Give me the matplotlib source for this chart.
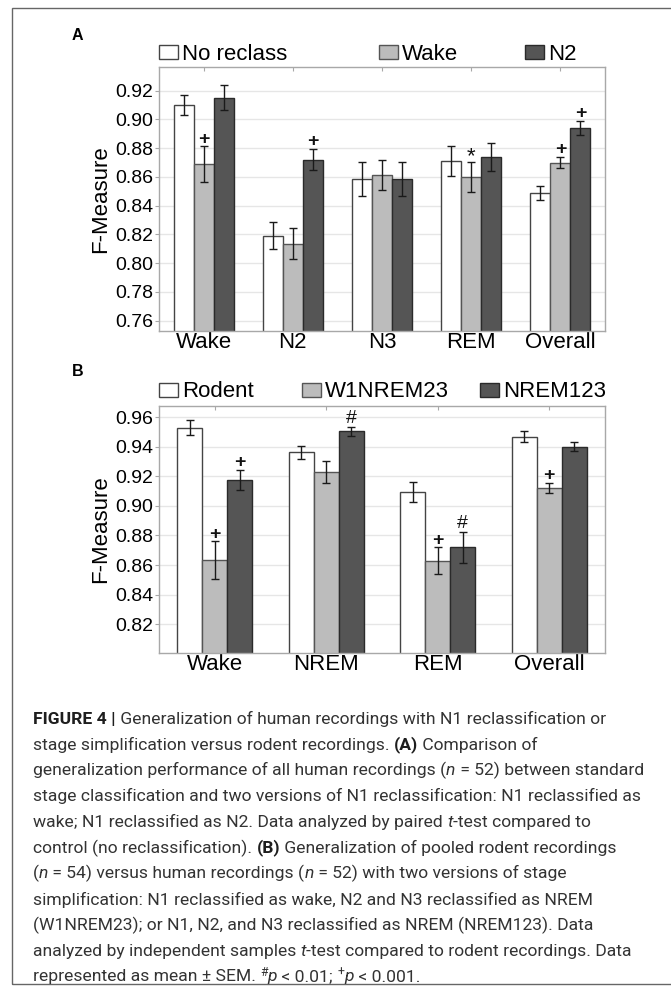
import numpy as np
import matplotlib
matplotlib.use('Agg')
import matplotlib.pyplot as plt
from matplotlib.patches import Patch, Rectangle

plt.rcParams['font.family'] = ['Liberation Sans', 'DejaVu Sans']

W, H = 671, 994  # px

# panel A data
A_cats = ['Wake', 'N2', 'N3', 'REM', 'Overall']
A_series = ['No reclass', 'Wake', 'N2']
A_noreclass = [0.910, 0.819, 0.8586, 0.871, 0.849]
A_noreclass_err = [0.007, 0.0093, 0.0116, 0.0102, 0.005]
A_wake = [0.869, 0.8136, 0.8614, 0.860, 0.870]
A_wake_err = [0.0122, 0.0108, 0.0105, 0.0104, 0.004]
A_n2 = [0.915, 0.872, 0.8583, 0.8737, 0.894]
A_n2_err = [0.0087, 0.0075, 0.0118, 0.0099, 0.005]
A_marks = [['', '', '', '', ''],
           ['+', '', '', '*', '+'],
           ['', '+', '', '', '+']]
A_yticks = [0.76, 0.78, 0.80, 0.82, 0.84, 0.86, 0.88, 0.90, 0.92]

# panel B data
B_cats = ['Wake', 'NREM', 'REM', 'Overall']
B_series = ['Rodent', 'W1NREM23', 'NREM123']
B_rodent = [0.953, 0.9363, 0.9096, 0.947]
B_rodent_err = [0.0052, 0.0043, 0.0066, 0.004]
B_w1 = [0.8631, 0.923, 0.8629, 0.912]
B_w1_err = [0.0129, 0.0072, 0.009, 0.0035]
B_nrem = [0.9175, 0.9505, 0.872, 0.940]
B_nrem_err = [0.0069, 0.003, 0.0106, 0.003]
B_marks = [['', '', '', ''],
           ['+', '', '+', '+'],
           ['+', '#', '#', '']]
B_yticks = [0.82, 0.84, 0.86, 0.88, 0.90, 0.92, 0.94, 0.96]

colors = ['white', '#bcbcbc', '#555555']
edges = ['#444444', '#555555', '#2a2a2a']
spine_c = '#a8a8a8'

fig = plt.figure(figsize=(W / 100, H / 100), dpi=100)


def px_axes(left, top, right, bottom):
    return fig.add_axes([left / W, 1 - bottom / H, (right - left) / W, (bottom - top) / H])


def draw_panel(ax, cats, vals, errs, marks, yticks, ylim):
    x = np.arange(len(cats))
    bw = 0.224
    for i in range(3):
        xs = x + (i - 1) * bw
        ax.bar(xs, vals[i], bw, color=colors[i], edgecolor=edges[i], linewidth=1.0, zorder=2)
        ax.errorbar(xs, vals[i], yerr=errs[i], fmt='none', ecolor='#1a1a1a',
                    elinewidth=1.0, capsize=3, capthick=1.0, zorder=3)
        for j in range(len(cats)):
            m = marks[i][j]
            if m:
                if m == '+':
                    kw = dict(fontsize=14, fontweight='bold')
                    off = -1
                elif m == '#':
                    kw = dict(fontsize=14)
                    off = 0
                else:
                    kw = dict(fontsize=16)
                    off = -4
                ax.annotate(m, (xs[j], vals[i][j] + errs[i][j]), xytext=(0, off),
                            textcoords='offset points', ha='center', va='bottom',
                            color='#111111', zorder=4, **kw)
    ax.set_xlim(-0.5, len(cats) - 0.5)
    ax.set_ylim(*ylim)
    ax.set_yticks(yticks)
    ax.set_yticklabels(['%.2f' % v for v in yticks], fontsize=14)
    ax.set_xticks(x)
    ax.set_xticklabels(cats, fontsize=16)
    ax.yaxis.grid(True, color='#e6e6e6', linewidth=1.0, zorder=0)
    ax.set_axisbelow(True)
    for s in ax.spines.values():
        s.set_color(spine_c)
        s.set_linewidth(1.0)
    ax.tick_params(axis='y', direction='out', length=3, color=spine_c, pad=1)
    ax.tick_params(axis='x', which='both', bottom=False, top=True, direction='in',
                   length=3, color=spine_c, pad=1)
    ax.set_ylabel('F-Measure', fontsize=16, labelpad=3)


# panel A
axA = px_axes(159, 67, 605, 331)
draw_panel(axA, A_cats, [A_noreclass, A_wake, A_n2], [A_noreclass_err, A_wake_err, A_n2_err],
           A_marks, A_yticks, (0.7528, 0.9365))

# panel B
axB = px_axes(159, 406, 605, 653)
draw_panel(axB, B_cats, [B_rodent, B_w1, B_nrem], [B_rodent_err, B_w1_err, B_nrem_err],
           B_marks, B_yticks, (0.8004, 0.9677))


def legend_item(label, idx, xpx, ypx):
    h = Patch(facecolor=colors[idx], edgecolor=edges[idx], linewidth=1.0)
    fig.legend(handles=[h], labels=[label], loc='center left',
               bbox_to_anchor=(xpx / W, 1 - ypx / H), frameon=False, fontsize=16,
               handlelength=0.85, handleheight=0.6, handletextpad=0.2,
               borderpad=0, borderaxespad=0)


for lab, i, xp in zip(A_series, range(3), [159, 379, 525]):
    legend_item(lab, i, xp, 54)
for lab, i, xp in zip(B_series, range(3), [159, 302, 480]):
    legend_item(lab, i, xp, 392)

fig.text(72 / W, 1 - 36 / H, 'A', fontsize=11.5, fontweight='bold', va='center')
fig.text(72 / W, 1 - 372 / H, 'B', fontsize=11.5, fontweight='bold', va='center')

# outer frame
fig.add_artist(Rectangle((12 / W, 10 / H), 700 / W, 976 / H, transform=fig.transFigure,
                         fill=False, edgecolor='#666666', linewidth=1.0))

# caption, drawn as runs of styled text
cap_lines = [
    [('FIGURE 4 |', 'b'), (' Generalization of human recordings with N1 reclassification or', 'r')],
    [('stage simplification versus rodent recordings. ', 'r'), ('(A)', 'b'), (' Comparison of', 'r')],
    [('generalization performance of all human recordings (', 'r'), ('n', 'i'),
     (' = 52) between standard', 'r')],
    [('stage classification and two versions of N1 reclassification: N1 reclassified as', 'r')],
    [('wake; N1 reclassified as N2. Data analyzed by paired ', 'r'), ('t', 'i'),
     ('-test compared to', 'r')],
    [('control (no reclassification). ', 'r'), ('(B)', 'b'),
     (' Generalization of pooled rodent recordings', 'r')],
    [('(', 'r'), ('n', 'i'), (' = 54) versus human recordings (', 'r'), ('n', 'i'),
     (' = 52) with two versions of stage', 'r')],
    [('simplification: N1 reclassified as wake, N2 and N3 reclassified as NREM', 'r')],
    [('(W1NREM23); or N1, N2, and N3 reclassified as NREM (NREM123). Data', 'r')],
    [('analyzed by independent samples ', 'r'), ('t', 'i'),
     ('-test compared to rodent recordings. Data', 'r')],
    [('represented as mean \u00b1 SEM. ', 'r'), ('#', 's'), ('p', 'i'), (' < 0.01; ', 'r'),
     ('+', 's'), ('p', 'i'), (' < 0.001.', 'r')],
]

renderer = fig.canvas.get_renderer()
cap_fs = 12.6
for k, runs in enumerate(cap_lines):
    x = 33.0
    y = 719 + k * 25.8
    for txt, st in runs:
        kw = dict(fontsize=cap_fs, family=['Roboto', 'DejaVu Sans'], color='#333333',
                  va='center', ha='left')
        yy = y
        if st == 'b':
            kw['fontweight'] = 'bold'
            kw['color'] = '#1e1e1e'
        elif st == 'i':
            kw['style'] = 'italic'
        elif st == 's':
            kw['fontsize'] = cap_fs * 0.7
            yy = y - 5
        t = fig.text(x / W, 1 - yy / H, txt, **kw)
        x += t.get_window_extent(renderer).width

fig.savefig('out.png', dpi=100)
